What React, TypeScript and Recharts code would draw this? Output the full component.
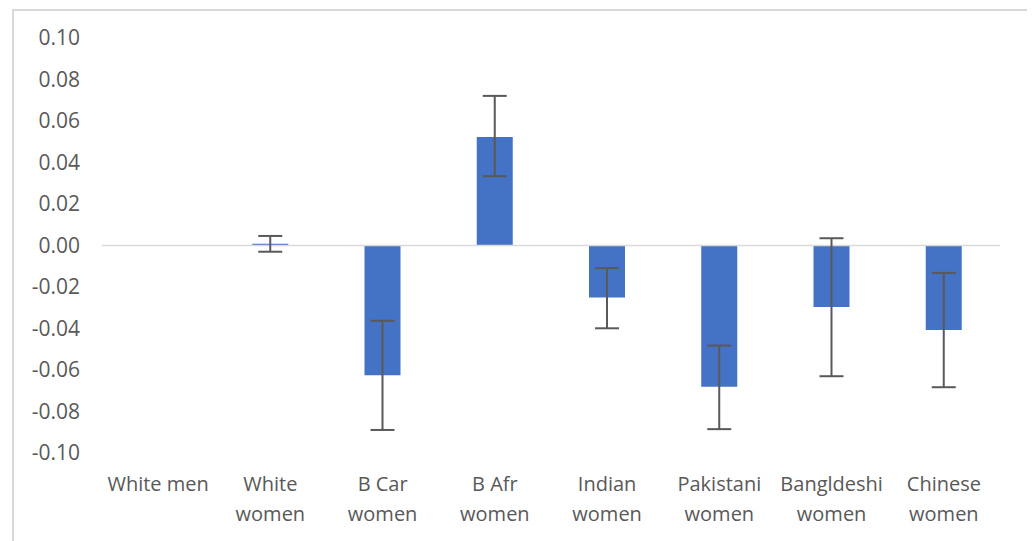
import React from "react";
import { BarChart, Bar, XAxis, YAxis, ReferenceLine, ErrorBar } from "recharts";

const categories = [
  "White men",
  "White women",
  "B Car women",
  "B Afr women",
  "Indian women",
  "Pakistani women",
  "Bangldeshi women",
  "Chinese women",
];
const labelLines = [
  ["White men"],
  ["White", "women"],
  ["B Car", "women"],
  ["B Afr", "women"],
  ["Indian", "women"],
  ["Pakistani", "women"],
  ["Bangldeshi", "women"],
  ["Chinese", "women"],
];
const values = [0, 0.0008, -0.0625, 0.0523, -0.0251, -0.0681, -0.0296, -0.0407];
const lower = [-0.0002, -0.003, -0.0889, 0.0334, -0.0399, -0.0885, -0.063, -0.0683];
const upper = [0.0002, 0.0046, -0.0363, 0.0721, -0.0109, -0.0482, 0.0035, -0.0132];
const yTicks = [-0.1, -0.08, -0.06, -0.04, -0.02, 0, 0.02, 0.04, 0.06, 0.08, 0.1];

const data = categories.map((c, i) => ({
  name: c,
  value: values[i],
  err: [values[i] - lower[i], upper[i] - values[i]],
}));

const FONT = "'Open Sans', sans-serif";
const TEXT = "#595959";

const XTick = (props: any) => {
  const { x, y, index } = props;
  const lines = labelLines[index] || [];
  return (
    <g>
      {lines.map((l: string, k: number) => (
        <text
          key={k}
          x={x}
          y={y + 38 + k * 30}
          textAnchor="middle"
          fill={TEXT}
          fontSize={20}
          fontFamily={FONT}
        >
          {l}
        </text>
      ))}
    </g>
  );
};

export default function App() {
  return (
    <div
      style={{
        marginLeft: 4,
        marginTop: 1,
        width: 1020,
        height: 545,
        boxSizing: "border-box",
        border: "2px solid #d9d9d9",
        background: "#fff",
        fontFamily: FONT,
      }}
    >
      <BarChart
        width={1016}
        height={536}
        data={data}
        margin={{ top: 27, right: 30, bottom: 34, left: 0 }}
      >
        <XAxis
          dataKey="name"
          axisLine={false}
          tickLine={false}
          tickSize={0}
          tickMargin={0}
          height={60}
          interval={0}
          tick={<XTick />}
        />
        <YAxis
          domain={[-0.1, 0.1]}
          ticks={yTicks}
          width={88}
          axisLine={false}
          tickLine={false}
          tickSize={0}
          tickMargin={22}
          tickFormatter={(v: number) => v.toFixed(2)}
          tick={{ fill: TEXT, fontSize: 21, fontFamily: FONT }}
          allowDataOverflow
        />
        <ReferenceLine y={0} stroke="#d9d9d9" strokeWidth={1.5} />
        <Bar dataKey="value" fill="#4472C4" barSize={36} isAnimationActive={false}>
          <ErrorBar dataKey="err" width={12} stroke="#595959" strokeWidth={2} />
        </Bar>
      </BarChart>
    </div>
  );
}
